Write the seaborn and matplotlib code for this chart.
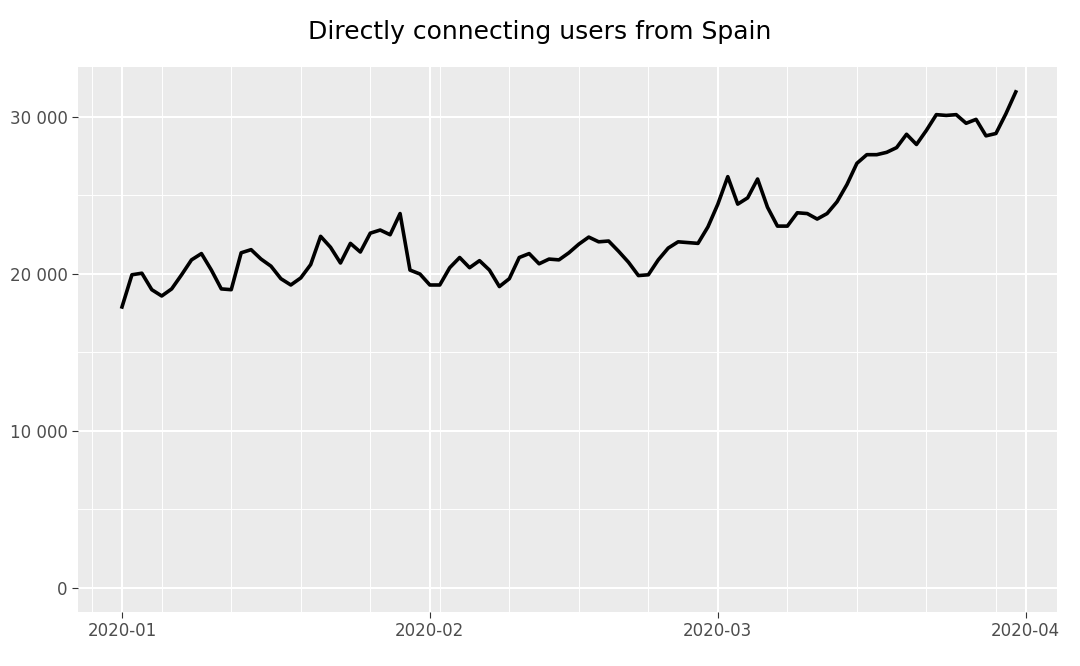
import numpy as np
import pandas as pd
import matplotlib
matplotlib.use("Agg")
import matplotlib.pyplot as plt
import matplotlib.dates as mdates
import matplotlib.ticker as mticker
import seaborn as sns

dates = pd.date_range("2020-01-01", "2020-03-31", freq="D")
users = [17900, 19950, 20050, 19000, 18600, 19050, 19950, 20900, 21300, 20250,
         19050, 19000, 21350, 21550, 20950, 20500, 19700, 19300, 19750, 20600,
         22400, 21700, 20700, 21950, 21400, 22600, 22800, 22500, 23850, 20250,
         20000, 19300, 19300, 20400, 21050, 20400, 20850, 20250, 19200, 19700,
         21050, 21300, 20650, 20950, 20900, 21350, 21900, 22350, 22050, 22100,
         21450, 20750, 19900, 19950, 20900, 21650, 22050, 22000, 21950, 23000,
         24450, 26200, 24450, 24850, 26050, 24250, 23050, 23050, 23900, 23850,
         23500, 23850, 24600, 25700, 27050, 27600, 27600, 27750, 28050, 28900,
         28250, 29150, 30150, 30100, 30150, 29600, 29850, 28800, 28950, 30200,
         31600]
df = pd.DataFrame({"date": dates, "users": users})

fig = plt.figure(figsize=(10.8, 6.66), dpi=100)
ax = fig.add_axes([78/1080, 1-612/666, (1057-78)/1080, (612-67)/666])
ax.set_facecolor("#EBEBEB")
sns.lineplot(data=df, x="date", y="users", ax=ax, color="black", linewidth=2.6)

ax.set_xlim(pd.Timestamp("2020-01-01") - pd.Timedelta(days=4.43),
            pd.Timestamp("2020-01-01") + pd.Timedelta(days=94.15))
ax.set_ylim(-1530, 33185)
ax.xaxis.set_major_locator(mdates.MonthLocator())
ax.xaxis.set_major_formatter(mdates.DateFormatter("%Y-%m"))
ax.xaxis.set_minor_locator(mdates.WeekdayLocator(byweekday=mdates.SU))
ax.yaxis.set_major_locator(mticker.MultipleLocator(10000))
ax.yaxis.set_minor_locator(mticker.MultipleLocator(5000))
ax.yaxis.set_major_formatter(mticker.FuncFormatter(lambda v, p: f"{int(v):,}".replace(",", " ")))
ax.grid(which="major", color="white", linewidth=1.5)
ax.grid(which="minor", color="white", linewidth=0.7)
ax.set_axisbelow(True)
for s in ax.spines.values():
    s.set_visible(False)
ax.tick_params(which="major", length=4, color="#333333", labelcolor="#4D4D4D", labelsize=12)
ax.tick_params(which="minor", length=0)
ax.set_xlabel("")
ax.set_ylabel("")
fig.text(0.5, 1-32/666, "Directly connecting users from Spain", ha="center", va="center", fontsize=18)
fig.savefig("out.png", dpi=100)
